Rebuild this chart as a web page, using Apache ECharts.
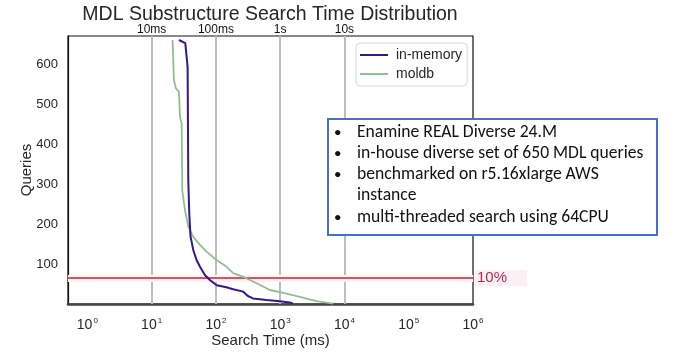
<!DOCTYPE html>
<html>
<head>
<meta charset="utf-8">
<script src="https://cdn.jsdelivr.net/npm/echarts@6/dist/echarts.min.js"></script>
<style>
  html, body { margin: 0; padding: 0; background: #fff; }
  #chart { width: 675px; height: 353px; }
</style>
</head>
<body>
<div id="chart"></div>
<script>
  // survival-style curves: queries still running vs search time (ms)
  const inMemoryTimes = [26.6, 33.4, 35, 36.3, 37.2, 38.5, 40.3, 41.9, 44.4, 50, 56.6, 67.8, 80.8, 102.7, 146, 186, 265, 314, 378, 615, 990, 1410, 1580];
  const inMemoryQueries = [660, 652, 648, 593, 310, 227, 168, 156, 135, 110, 93, 72, 60, 47, 42, 37, 31, 20, 14, 10, 7, 4, 1];
  const moldbTimes = [21.2, 22.2, 23.9, 26.6, 27.6, 29.3, 29.9, 29.9, 33, 37.2, 44.4, 56.4, 71.6, 102, 147, 186, 266, 430, 692, 1115, 2020, 3680, 6670];
  const moldbQueries = [660, 560, 539, 531, 468, 452, 310, 285, 235, 193, 168, 148, 131, 110, 93, 77, 68, 52, 35, 28, 18, 7, 1];

  const refTimes = [10, 100, 1000, 10000];
  const refLabels = ["10ms", "100ms", "1s", "10s"];
  const thresholdQueries = 65;

  const notes = [
    "Enamine REAL Diverse 24.M",
    "in-house diverse set of 650 MDL queries",
    "benchmarked on r5.16xlarge AWS",
    "instance",
    "multi-threaded search using 64CPU"
  ];
  const bulleted = [true, true, true, false, true];

  const chart = echarts.init(document.getElementById("chart"));

  function pairs(xs, ys) {
    return xs.map((x, i) => [x, ys[i]]);
  }

  const font = "Liberation Sans, Arial, sans-serif";
  const noteFont = "Carlito, Lato, sans-serif";

  const noteTexts = [];
  const lineY = [135, 156, 177, 198, 220];
  notes.forEach((t, i) => {
    if (bulleted[i]) {
      noteTexts.push({ type: "text", left: 334, top: lineY[i] - 9, style: { text: "•", font: "15px " + noteFont, fill: "#111" } });
    }
    noteTexts.push({ type: "text", left: 357, top: lineY[i] - 11, style: { text: t, font: "17.6px " + noteFont, fill: "#111" } });
  });

  chart.setOption({
    animation: false,
    title: {
      text: "MDL Substructure Search Time Distribution",
      left: 265, top: 0, textAlign: "center",
      textStyle: { fontFamily: font, fontSize: 19.5, fontWeight: "normal", color: "#262626" }
    },
    legend: {
      orient: "vertical", left: 356, top: 43,
      icon: "rect", itemWidth: 28, itemHeight: 2, itemGap: 5,
      backgroundColor: "#fff", borderColor: "#d8d8d8", borderWidth: 1, borderRadius: 4,
      padding: [5, 5, 5, 4],
      textStyle: { fontFamily: font, fontSize: 14, color: "#262626", padding: [0, 0, 0, 3] },
      data: ["in-memory", "moldb"]
    },
    grid: {
      left: 68, right: 202, top: 36, bottom: 49,
      outerBoundsMode: "none", containLabel: false,
      show: true, borderColor: "#111", borderWidth: 1.2
    },
    xAxis: {
      type: "log", logBase: 10, min: 0.5, max: 1e6,
      name: "Search Time (ms)", nameLocation: "middle", nameGap: 29, nameMoveOverlap: false,
      nameTextStyle: { fontFamily: font, fontSize: 15, color: "#262626" },
      axisLine: { show: true, lineStyle: { color: "#444", width: 2.5 } },
      axisTick: { show: false },
      splitLine: { show: false },
      minorSplitLine: { show: false },
      axisLabel: {
        showMinLabel: false, margin: 13,
        formatter: (v) => "{b|10}{s|" + Math.round(Math.log10(v)) + "}",
        rich: {
          b: { fontFamily: font, fontSize: 14, color: "#262626" },
          s: { fontFamily: font, fontSize: 8, color: "#262626", verticalAlign: "top", padding: [0, 0, 9, 1] }
        }
      }
    },
    yAxis: {
      type: "value", min: 0, max: 670, interval: 100,
      name: "Queries", nameLocation: "middle", nameGap: 34, nameRotate: 90, nameMoveOverlap: false,
      nameTextStyle: { fontFamily: font, fontSize: 15, color: "#262626" },
      axisLine: { show: true, lineStyle: { color: "#111", width: 1.2 } },
      axisTick: { show: false },
      splitLine: { show: false },
      axisLabel: { showMinLabel: false, showMaxLabel: false, margin: 10, fontFamily: font, fontSize: 13, color: "#262626" }
    },
    series: [
      {
        name: "refs", type: "line", data: [], silent: true, z: 1,
        markLine: {
          z: 1, symbol: "none", silent: true, animation: false,
          lineStyle: { color: "#bdbdbd", width: 2, type: "solid" },
          label: { position: "end", distance: 0, fontFamily: font, fontSize: 12, color: "#111", formatter: (p) => p.name },
          data: refTimes.map((t, i) => ({ xAxis: t, name: refLabels[i] }))
        }
      },
      {
        name: "band", type: "line", data: [], silent: true, z: 1,
        markLine: {
          z: 1, symbol: "none", silent: true, animation: false,
          lineStyle: { color: "#fdeff5", width: 7, type: "solid" },
          label: { show: false },
          data: [{ yAxis: thresholdQueries }]
        }
      },
      {
        name: "threshold", type: "line", data: [], silent: true, z: 2,
        markLine: {
          z: 2, symbol: "none", silent: true, animation: false,
          lineStyle: { color: "#a8302f", width: 1.5, type: "solid" },
          label: {
            position: "end", distance: 2, formatter: "10%",
            fontFamily: font, fontSize: 15, color: "#a8304a",
            backgroundColor: "#fdf0f5", padding: [1, 20, 0, 2]
          },
          data: [{ yAxis: thresholdQueries }]
        }
      },
      {
        name: "moldb", type: "line", showSymbol: false, z: 3,
        color: "#8fbf8f", lineStyle: { width: 1.8, color: "#8fbf8f" },
        data: pairs(moldbTimes, moldbQueries)
      },
      {
        name: "in-memory", type: "line", showSymbol: false, z: 4,
        color: "#341888", lineStyle: { width: 2, color: "#341888" },
        data: pairs(inMemoryTimes, inMemoryQueries)
      }
    ],
    graphic: [
      {
        type: "rect", shape: { x: 328, y: 119, width: 329, height: 116 },
        style: { fill: "#fff", stroke: "#4472c4", lineWidth: 2 }, z: 100
      },
      ...noteTexts.map((t) => Object.assign(t, { z: 101 }))
    ]
  });
</script>
</body>
</html>
